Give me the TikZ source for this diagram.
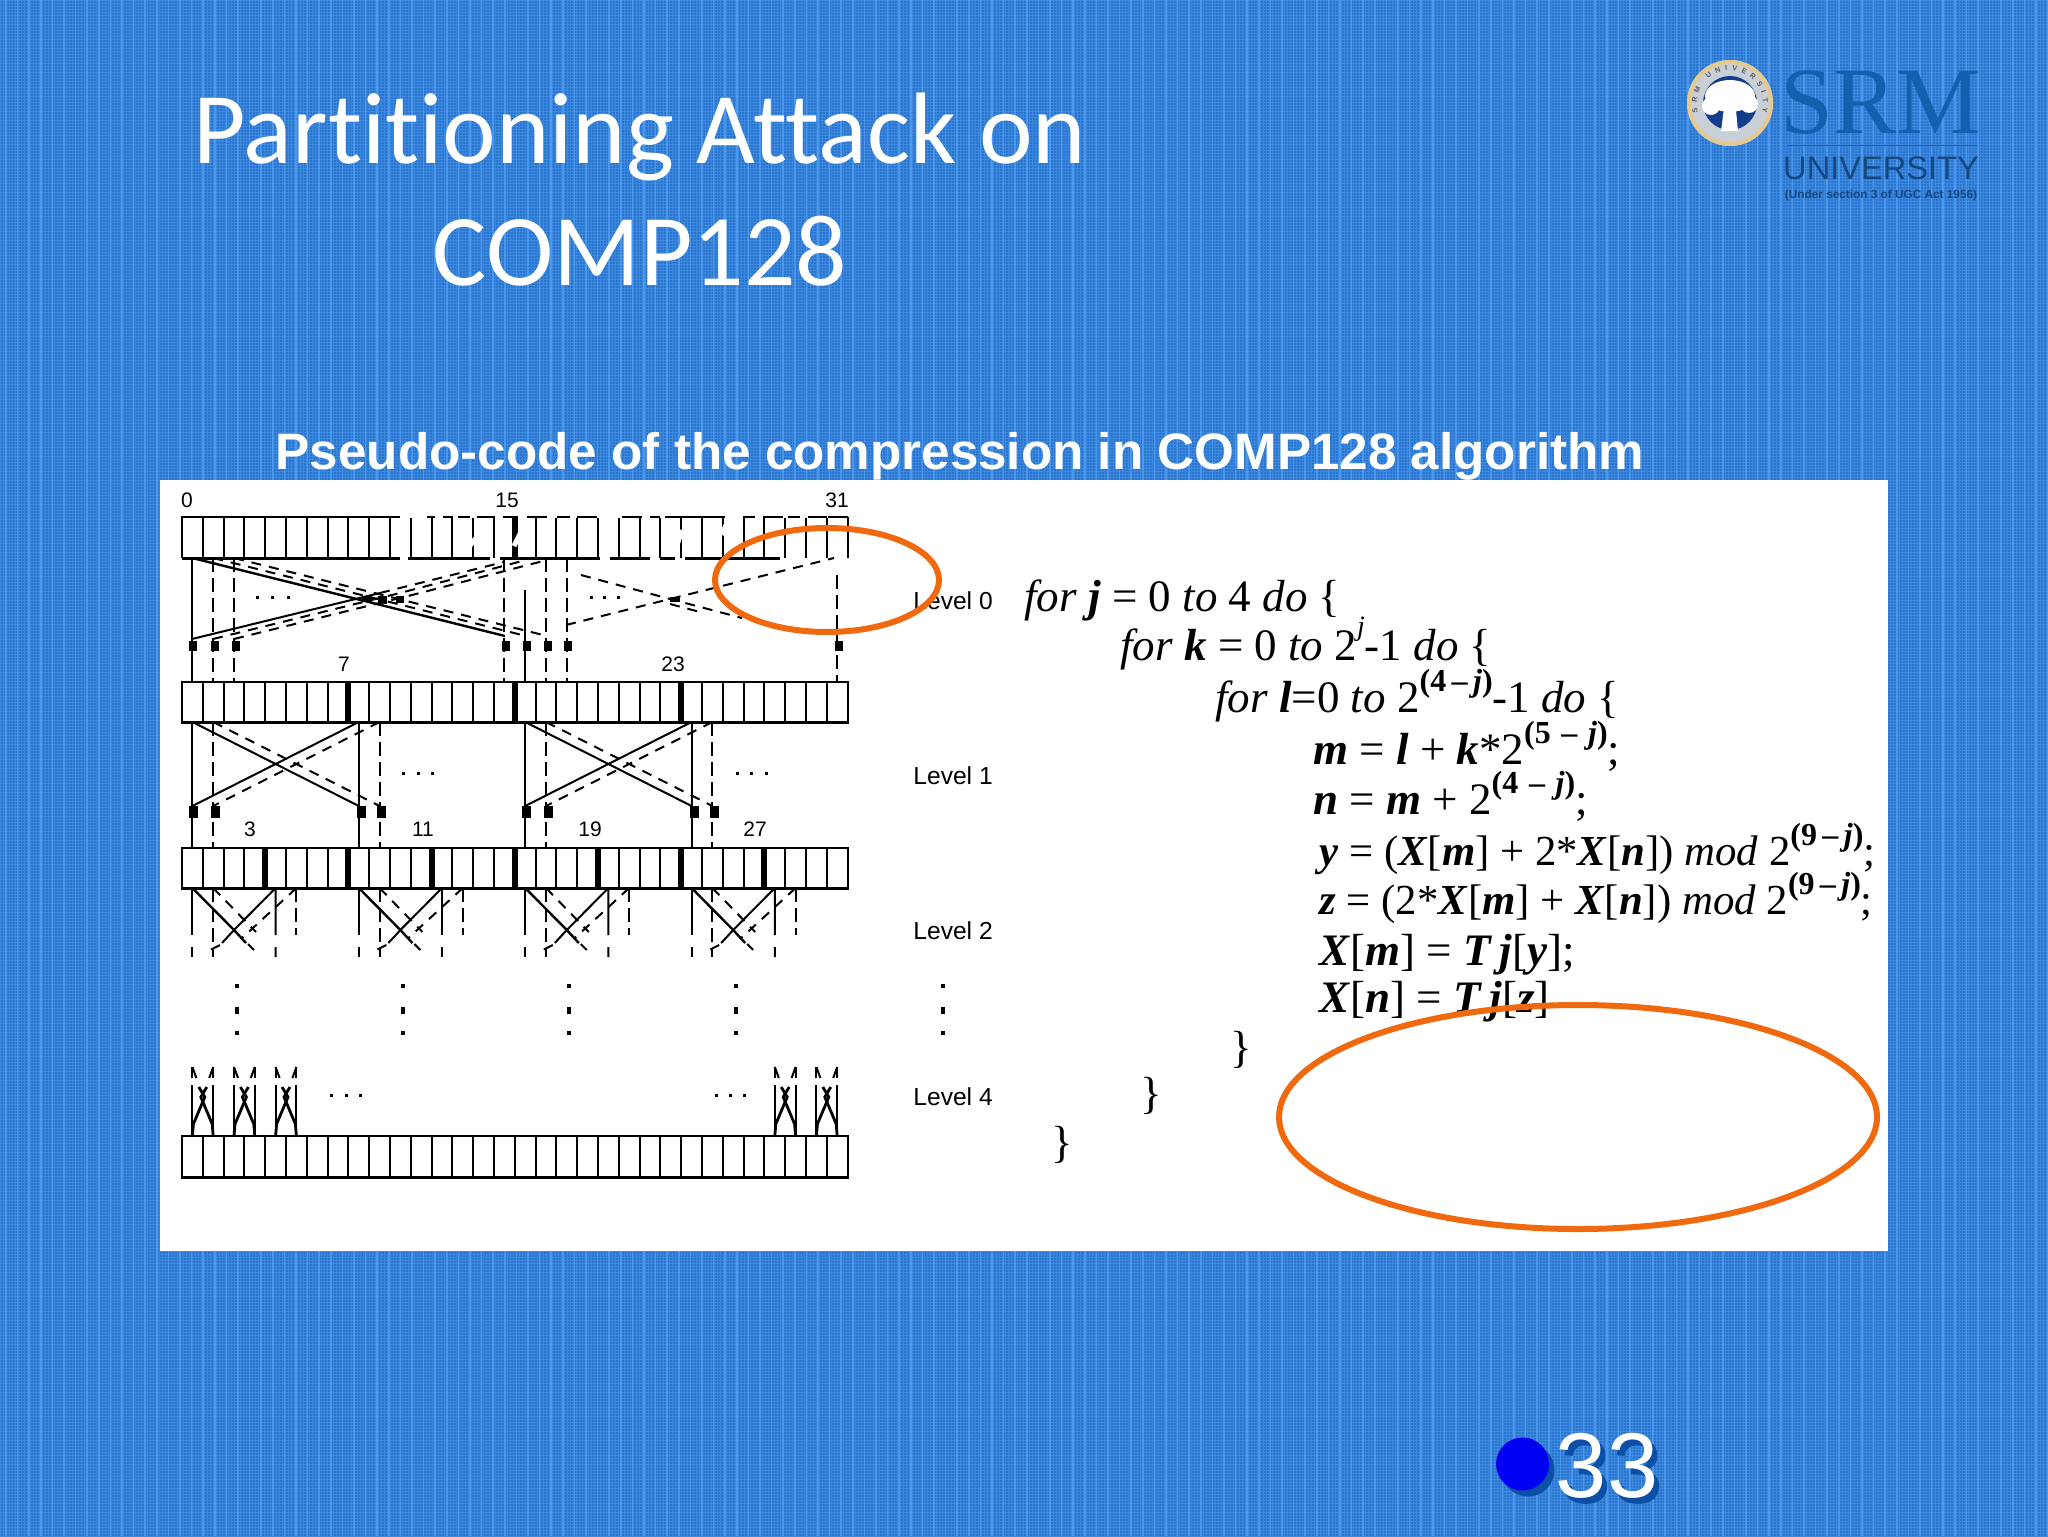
\documentclass[tikz,border=0pt]{standalone}
\usepackage{fontspec}
\setmainfont{Liberation Serif}
\newfontfamily\carl[Ligatures={NoCommon}]{Carlito}
\newfontfamily\ari{Liberation Sans}
\usetikzlibrary{decorations.text,calc}
\definecolor{bgbase}{HTML}{2775CE}
\definecolor{bggrid}{HTML}{3D88DC}
\definecolor{bgstripe}{HTML}{4A98EE}
\definecolor{ring}{HTML}{F0690F}
\definecolor{srmblue}{HTML}{1261AE}
\definecolor{srmdark}{HTML}{17477F}
\definecolor{pgshade}{HTML}{0B4FA6}
\definecolor{sealtan}{HTML}{E6C98F}
\definecolor{sealgrey}{HTML}{C9CFD6}
\definecolor{sealblue}{HTML}{123C8C}
\newcommand{\vb}[1]{\textbf{\textit{#1}}}
\newcommand{\supr}[1]{\raisebox{.45em}{\fontsize{16}{16}\selectfont\bfseries #1}}
\newcommand{\cellrow}[2]{%
  \foreach \k in {1,...,31}{\draw[cell] ({182+20.8*\k},#1) -- ({182+20.8*\k},#2);}
  \draw[edge] (182,#1) rectangle (848,#2);
  \draw[bottomedge] (181,#2) -- (849,#2);}
\newcommand{\thickbar}[3]{\fill[black] ({182+20.8*#1-3},#2) rectangle ({182+20.8*#1+3},#3);}
\newcommand{\threedots}[2]{\foreach \q in {#1}{\fill[black] (\q-1.5,#2-1.5) rectangle (\q+1.5,#2+1.5);}}
\tikzset{
  cell/.style={line width=1pt,black},
  edge/.style={line width=1pt,black},
  bottomedge/.style={line width=1.5pt,black},
  sol/.style={line width=1pt,black},
  dsh/.style={line width=1pt,black,dash pattern=on 7pt off 3pt},
  dg/.style={line width=1pt,black,dash pattern=on 5pt off 4pt},
  lab/.style={font=\ari\fontsize{10.5}{10.5}\selectfont,inner sep=0pt},
  lev/.style={font=\ari\fontsize{12.3}{12.3}\selectfont,inner sep=0pt,anchor=west},
  code/.style={font=\fontsize{22.5}{22.5}\selectfont,inner sep=0pt,anchor=base west},
  codew/.style={font=\fontsize{21.4}{21.4}\selectfont,inner sep=0pt,anchor=base west},
  sq/.style={fill=black,draw=none,inner sep=0pt,minimum width=4pt,minimum height=5pt},
  sqb/.style={fill=black,draw=none,inner sep=0pt,minimum width=4.5pt,minimum height=6pt},
  oval/.style={draw=ring,line width=3pt},
}
\begin{document}
\begin{tikzpicture}[x=0.5pt,y=-0.5pt]
\useasboundingbox (0,0) rectangle (2048,1536);
% background
\fill[bgbase] (0,0) rectangle (2048,1536);
\foreach \gx in {0,3,...,2048}{\draw[bggrid,line width=.35pt] (\gx,0) -- (\gx,1536);}
\foreach \gy in {0,3,...,1536}{\draw[bggrid,line width=.35pt] (0,\gy) -- (2048,\gy);}
\foreach \gx in {6,17.6,...,2048}{\draw[bgstripe,line width=.8pt] (\gx,0) -- (\gx,1536);}
% title
\node[font=\carl\fontsize{50.8}{50.8}\selectfont,text=white,inner sep=0pt] (t1) at (640,137) {Partitioning Attack on};
\node[font=\carl\fontsize{50.8}{50.8}\selectfont,text=white,inner sep=0pt] (t2) at (640,251) {COMP128};
\node[font=\ari\bfseries\fontsize{25.6}{25.6}\selectfont,text=white,inner sep=0pt] (sub) at (960,456) {Pseudo-code of the compression in COMP128 algorithm};
% logo
\fill[sealgrey] (1730,103) circle (43);
\draw[sealtan,line width=2pt] (1730,103) circle (41);
\fill[sealblue] (1730,103) circle (27);
\fill[white] (1730,96) ellipse (25 and 16);
\fill[white] (1711,106) circle (9);
\fill[white] (1749,104) circle (9);
\fill[white] (1725,100) -- (1735,100) -- (1738,131) -- (1721,131) -- cycle;
\path[decorate,decoration={text along path,text align={fit to path},text={|\ari\bfseries\fontsize{3.6}{3.6}\selectfont\color{black!65}|SRM UNIVERSITY}}] (1698,112) arc[start angle=165,end angle=375,radius=33];
\node[font=\fontsize{47.5}{47.5}\selectfont,text=srmblue,inner sep=0pt] (srm) at (1881,103) {SRM};
\draw[srmblue,line width=.4pt] (1787,145) -- (1977,145);
\node[font=\ari\fontsize{16.3}{16.3}\selectfont,text=srmdark,inner sep=0pt] (uni) at (1881,168) {UNIVERSITY};
\node[font=\ari\bfseries\fontsize{5.9}{5.9}\selectfont,text=srmdark,inner sep=0pt] (usc) at (1881,195) {(Under section 3 of UGC Act 1956)};
% white panel
\fill[white] (160,480) rectangle (1888,1251);
% row 1, with its broken outline
\foreach \k in {1,...,31}{\draw[cell] ({182+20.8*\k},518) -- ({182+20.8*\k},558);}
\draw[line width=3pt] ({182+20.8*16},518) -- ({182+20.8*16},558);
\draw[edge] (182,558) -- (182,517) -- (400,517);
\draw[edge] (848,517) -- (848,558);
\foreach \a/\b in {40/60,140/165,190/220,235/270,290/345,370/415,440/500,530/570,590/650,725/785,810/840,855/1035,1090/1125,1150/1210,1225/1260,1285/1340,1345/1405}{
  \draw[edge] ({380+\a/3},517) -- ({380+\b/3},517);}
\foreach \a/\b in {182/400,408/490,500/600,610/650,660/675,685/780}{\draw[bottomedge] (\a,558) -- (\b,558);}
\draw[white,line width=2.5pt] (476,538) -- (468,548);
\draw[white,line width=2.5pt] (526,522) -- (514,546);
\draw[white,line width=2.5pt] (682,530) -- (676,548);
\draw[white,line width=2.5pt] (726,525) -- (722,535);
% rows 2-4
\cellrow{682}{722}
\foreach \k in {8,16,24}{\thickbar{\k}{682}{722}}
\cellrow{848}{888}
\foreach \k in {4,8,12,16,20,24,28}{\thickbar{\k}{848}{888}}
\cellrow{1136}{1177}
% cell coordinates
\foreach \i in {0,...,31}{
  \coordinate (a\i) at ({182+20.8*(\i+.5)},558);
  \coordinate (b\i) at ({182+20.8*(\i+.5)},682);
  \coordinate (c\i) at ({182+20.8*(\i+.5)},722);
  \coordinate (d\i) at ({182+20.8*(\i+.5)},848);
  \coordinate (e\i) at ({182+20.8*(\i+.5)},888);
  \coordinate (f\i) at ({182+20.8*(\i+.5)},1136);
}
% number labels
\node[lab] (n0) at (187,500) {0};
\node[lab] (n15) at (507,500) {15};
\node[lab] (n31) at (837,500) {31};
\node[lab] (n7) at (344,664) {7};
\node[lab] (n23) at (673,664) {23};
\node[lab] (n3) at (250,829) {3};
\node[lab] (n11) at (423,829) {11};
\node[lab] (n19) at (590,829) {19};
\node[lab] (n27) at (755,829) {27};
% level 0
\draw[sol] (a0) -- (b0);
\draw[dsh] (a1) -- (b1);
\draw[dsh] (a2) -- (b2);
\draw[dsh] (a15) -- (b15);
\draw[sol] (a16 |- 0,590) -- (b16);
\draw[dsh] (a17) -- (b17);
\draw[dsh] (a18) -- (b18);
\draw[dsh] (a31 |- 0,575) -- (b31);
\draw[sol,line width=1.2pt] (a0) -- (505,636);
\draw[dg] (a1) -- (526,636);
\draw[dg] (a2) -- (547,636);
\draw[sol] (192,639) -- (380,593);
\draw[dg] (380,593) -- (504,562);
\draw[dg] (213,639) -- (400,593) -- (526,560);
\draw[dg] (234,639) -- (420,593) -- (547,560);
\draw[dg] (566,625) -- (670,599) -- (834,558);
\draw[dg] (581,575) -- (670,599) -- (742,618);
\draw[dg] (670,604) -- (700,612);
\fill (670,597) rectangle ++(10,5);
\fill (362,596) rectangle ++(10,6);
\fill (378,596) rectangle ++(9,8);
\fill (396,596) rectangle ++(8,7);
\threedots{257,272,288}{597}
\threedots{591,604,618}{597}
\foreach \i/\x in {0/193,1/215,2/236,3/506,4/526.5,5/548,6/568,7/839}{\node[sq] (s\i) at (\x,646) {};}
% level 1
\foreach \l in {0,8,16,24}{
  \pgfmathtruncatemacro{\aa}{\l}
  \pgfmathtruncatemacro{\ab}{\l+1}
  \draw[sol] (c\aa) -- (d\aa);
  \draw[dsh] (c\ab) -- (d\ab);
}
\foreach \l in {0,16}{
  \pgfmathtruncatemacro{\pa}{\l}
  \pgfmathtruncatemacro{\pb}{\l+1}
  \pgfmathtruncatemacro{\qa}{\l+8}
  \pgfmathtruncatemacro{\qb}{\l+9}
  \draw[sol] (c\pa) -- ($(d\qa)+(0,-42)$);
  \draw[sol] (c\qa) -- ($(d\pa)+(0,-42)$);
  \draw[dg] (c\pb) -- ($(d\qb)+(0,-42)$);
  \draw[dg] (c\qb) -- ($(d\pb)+(0,-42)$);
}
\foreach \i/\x in {0/193,1/215,2/361,3/381,4/526.5,5/548,6/694,7/714}{\node[sqb] (u\i) at (\x,812) {};}
\threedots{403,418,432}{773}
\threedots{737,751,766}{773}
% level 2
\foreach \l in {0,8,16,24}{
  \pgfmathtruncatemacro{\pa}{\l}
  \pgfmathtruncatemacro{\pb}{\l+1}
  \pgfmathtruncatemacro{\qa}{\l+4}
  \pgfmathtruncatemacro{\qb}{\l+5}
  \pgfmathsetmacro{\xa}{182+20.8*(\l+.5)}
  \pgfmathsetmacro{\xb}{\xa+20.8}
  \pgfmathsetmacro{\xc}{\xa+83.2}
  \pgfmathsetmacro{\xd}{\xa+104}
  \pgfmathsetmacro{\xm}{\xa+41.6}
  \draw[sol] (e\pa) -- (\xa,935) (\xa,947) -- (\xa,957);
  \draw[sol] (e\qa) -- (\xc,935) (\xc,947) -- (\xc,957);
  \draw[dsh] (e\pb) -- (\xb,957);
  \draw[dsh] (e\qb) -- (\xd,935);
  \draw[sol,line width=1.2pt] (e\pa) -- (\xm,930) -- (\xm+12,943);
  \draw[sol] (e\qa) -- (\xm,930) -- (\xm-12,943);
  \draw[dg] (e\pb) -- (\xm+22,932);
  \draw[dg] (e\qb) -- (\xm+8,938) (\xm-14,945) -- (\xm-24,950);
  \draw[dg] (\xm+14,944) -- (\xm+20,950);
}
% level 3 dots
\foreach \x in {237,403,569,736,943}{
  \fill (\x-1.7,984) rectangle (\x+1.7,988);
  \fill (\x-1.7,1007) rectangle (\x+1.7,1014);
  \fill (\x-1.7,1031) rectangle (\x+1.7,1035);
}
% level 4
\foreach \l in {0,2,4,28,30}{
  \pgfmathtruncatemacro{\pa}{\l}
  \pgfmathtruncatemacro{\pb}{\l+1}
  \pgfmathsetmacro{\xa}{182+20.8*(\l+.5)}
  \pgfmathsetmacro{\xb}{\xa+20.8}
  \pgfmathsetmacro{\xm}{\xa+10.4}
  \draw[sol] (f\pa) -- (\xa,1085) (\xb,1085) -- (f\pb);
  \draw[sol] (\xa,1067) -- (\xa,1078);
  \draw[sol] (\xb,1067) -- (\xb,1078);
  \draw[sol] (\xa,1067) -- (\xa+4,1078);
  \draw[sol] (\xb,1067) -- (\xb-4,1078);
  \draw[sol,line width=1.4pt] (f\pa) -- (\xa+1,1124) -- (\xm+2,1097) -- (\xm-4,1087);
  \draw[sol,line width=1.4pt] (f\pb) -- (\xb-1,1124) -- (\xm-2,1097) -- (\xm+4,1087);
}
\threedots{331,346,360}{1095}
\threedots{716,730,744}{1095}
% level labels
\node[lev] (l0) at (913,601) {Level 0};
\node[lev] (l1) at (913,776) {Level 1};
\node[lev] (l2) at (913,931) {Level 2};
\node[lev] (l4) at (913,1097) {Level 4};
% pseudo-code
\node[code] (c1) at (1024,611) {\textit{for} \vb{j} = 0 \textit{to} 4 \textit{do} \{};
\node[code] (c2) at (1120,660) {\textit{for} \vb{k} = 0 \textit{to} 2\raisebox{.55em}{\fontsize{14}{14}\selectfont\textit{j}}-1 \textit{do} \{};
\node[code] (c3) at (1215,712) {\textit{for} \vb{l}=0 \textit{to} 2\supr{(4\,–\,\textit{j})}-1 \textit{do} \{};
\node[code] (c4) at (1313,764) {\vb{m} = \vb{l} + \vb{k}*2\supr{(5\,\,–\,\,\textit{j})};};
\node[code] (c5) at (1313,814) {\vb{n} = \vb{m} + 2\supr{(4\,\,–\,\,\textit{j})};};
\node[codew] (c6) at (1319,865) {\vb{y} = (\vb{X}[\vb{m}] + 2*\vb{X}[\vb{n}]) \textit{mod} 2\supr{(9\,–\,\textit{j})};};
\node[codew] (c7) at (1319,914) {\vb{z} = (2*\vb{X}[\vb{m}] + \vb{X}[\vb{n}]) \textit{mod} 2\supr{(9\,–\,\textit{j})};};
\node[code] (c8) at (1319,965) {\vb{X}[\vb{m}] = \vb{T}\,\vb{j}[\vb{y}];};
\node[code] (c9) at (1319,1012) {\vb{X}[\vb{n}] = \vb{T}\,\vb{j}[\vb{z}]};
\node[code] (b1) at (1230,1062) {\}};
\node[code] (b2) at (1140,1108) {\}};
\node[code] (b3) at (1051,1157) {\}};
% orange ovals
\draw[oval] (827,580) ellipse (112 and 52);
\draw[oval] (1578,1117) ellipse (299 and 112);
% page number
\fill[pgshade] (1528,1470) circle (26.5);
\fill[blue!95!black] (1522.5,1464) circle (26.5);
\node[font=\ari\fontsize{46}{46}\selectfont,text=pgshade,inner sep=0pt] (pgs) at (1612,1472) {33};
\node[font=\ari\fontsize{46}{46}\selectfont,text=white,inner sep=0pt] (pg) at (1607,1466) {33};
\end{tikzpicture}
\end{document}
